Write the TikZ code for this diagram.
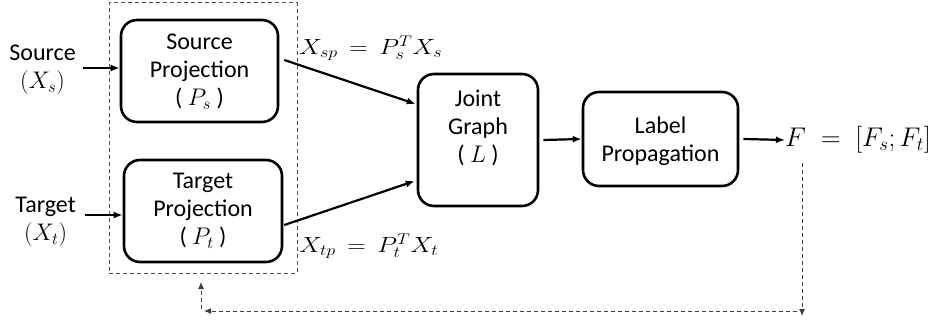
\RequirePackage{fix-cm}
\documentclass[tikz,border=0pt]{standalone}
\usepackage{fontspec}
\setmainfont{Carlito}
\usetikzlibrary{arrows.meta}
\begin{document}
\begin{tikzpicture}[x=1pt,y=-1pt,
  txt/.style={font=\fontsize{24}{28}\selectfont, align=center, inner sep=0pt},
  mth/.style={font=\fontsize{22}{26}\selectfont, inner sep=0pt},
  mthb/.style={font=\fontsize{27}{30}\selectfont, inner sep=0pt},
  blk/.style={draw, line width=2.6pt, rounded corners=16pt, inner sep=0pt},
  arr/.style={line width=2.2pt, -{Latex[length=9pt,width=7pt]}},
  fbk/.style={draw=black!75, line width=1pt, dash pattern=on 4pt off 3pt, -{Latex[length=7pt,width=6pt]}},
  grp/.style={draw=black!70, line width=1pt, dash pattern=on 4pt off 3pt, inner sep=0pt}]
\useasboundingbox (0,0) rectangle (941,326);
% group
\node[grp, minimum width=188pt, minimum height=270pt] (grp) at (203,138) {};
% blocks
\node[blk, minimum width=157pt, minimum height=102pt] (sp) at (199.5,71) {};
\node[txt] (spt) at (199.5,72) {Source\\Projection\\( $P_s$ )};
\node[blk, minimum width=158pt, minimum height=102pt] (tp) at (203,211) {};
\node[txt] (tpt) at (203,211) {Target\\Projection\\( $P_t$ )};
\node[blk, minimum width=120pt, minimum height=132pt] (jg) at (478,140) {};
\node[txt] (jgt) at (478,128) {Joint\\Graph\\( $L$ )};
\node[blk, minimum width=155pt, minimum height=94pt] (lp) at (660.5,139) {};
\node[txt] (lpt) at (660.5,141) {Label\\Propagation};
% inputs
\node[txt, anchor=east] (src) at (76,70) {Source\\$(X_s)$};
\node[txt, anchor=east] (tgt) at (76,222) {Target\\$(X_t)$};
% output
\node[mthb, anchor=west] (F) at (785,140) {$F\;=\;[F_s;F_t]$};
% labels
\node[mth, anchor=west] (lsp) at (299,48) {\scalebox{1.17}[1]{$X_{sp}\,=\,P_s^TX_s$}};
\node[mth, anchor=west] (ltp) at (299,246) {\scalebox{1.17}[1]{$X_{tp}\,=\,P_t^TX_t$}};
% arrows
\draw[arr] ([xshift=7pt]src.east |- 0,68) -- (sp.west |- 0,68);
\draw[arr] ([xshift=9pt]tgt.east |- 0,215) -- (tp.west |- 0,215);
\draw[arr] ([shift={(5,-11)}]sp.east) -- ([shift={(-1,-36)}]jg.west);
\draw[arr] ([shift={(1,14)}]tp.east) -- ([shift={(-2,41)}]jg.west);
\draw[arr] ([xshift=4pt]jg.east) -- (lp.west);
\draw[arr] ([xshift=4pt]lp.east) -- (F.west);
% feedback
\coordinate (fa) at (802,163);
\coordinate (fb) at (802,316);
\coordinate (fc) at (797,311);
\coordinate (fd) at (204,311);
\coordinate (fe) at (201,309);
\coordinate (ff) at (201,282);
\draw[fbk] (fa) -- (fb);
\draw[fbk] (fc) -- (fd);
\draw[fbk] (fe) -- (ff);
\end{tikzpicture}
\end{document}
